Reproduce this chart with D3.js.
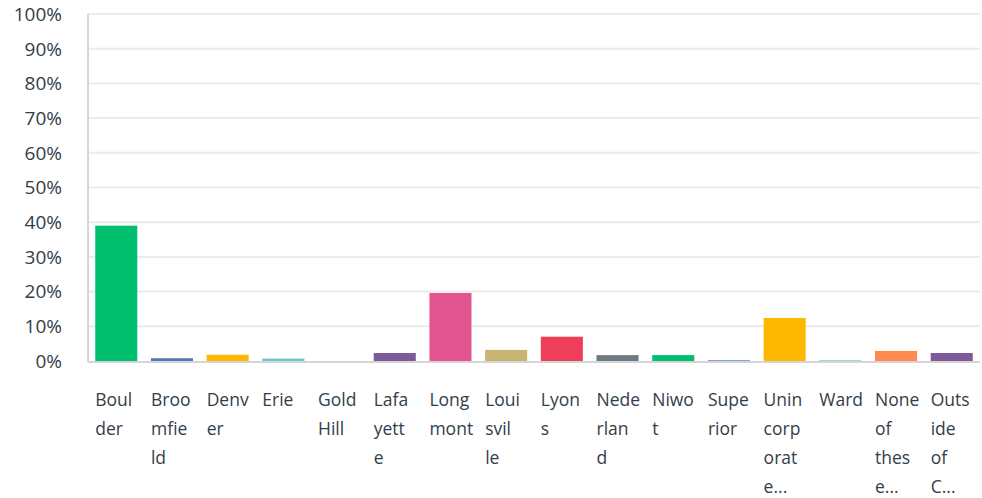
<!DOCTYPE html>
<meta charset="utf-8">
<script src="https://d3js.org/d3.v7.min.js"></script>
<style>
  body { margin: 0; background: #fff; }
  text { font-family: "Open Sans", sans-serif; fill: #333e48; }
</style>
<div id="my_dataviz"></div>
<script>
  // categories and shares (%)
  var categories = ["Boulder", "Broomfield", "Denver", "Erie", "Gold Hill", "Lafayette",
    "Longmont", "Louisville", "Lyons", "Nederland", "Niwot", "Superior",
    "Unincorporated Boulder County", "Ward", "None of these apply", "Outside of County"];
  var values = [39.0, 0.8, 1.8, 0.7, 0, 2.3, 19.6, 3.2, 7.0, 1.7, 1.7, 0.2, 12.4, 0.2, 2.9, 2.3];
  var yTicks = [0, 10, 20, 30, 40, 50, 60, 70, 80, 90, 100];
  var palette = ["#00bf6f", "#507cb6", "#ffb800", "#6bc8cd", "#ff8b4f",
                 "#7f5a9b", "#e25591", "#c9b572", "#ee3e5a", "#6d7b83"];

  var W = 982, H = 498;
  var margin = {top: 14, right: 2, bottom: 137, left: 88},
      width = W - margin.left - margin.right,
      height = H - margin.top - margin.bottom;

  var svg = d3.select("#my_dataviz")
    .append("svg")
    .attr("width", W)
    .attr("height", H)
    .append("g")
    .attr("transform", "translate(" + margin.left + "," + margin.top + ")");

  var x = d3.scaleBand()
    .domain(categories)
    .range([0, width])
    .paddingInner(0.245)
    .paddingOuter(0.13);

  var y = d3.scaleLinear()
    .domain([0, 100])
    .range([height, 0]);

  // gridlines
  svg.append("g")
    .selectAll("line")
    .data(yTicks.slice(1))
    .enter()
    .append("line")
    .attr("x1", 0)
    .attr("x2", width)
    .attr("y1", function (d) { return y(d); })
    .attr("y2", function (d) { return y(d); })
    .style("stroke", "#ebebeb")
    .style("stroke-width", 2);

  // y labels
  svg.append("g")
    .selectAll("text")
    .data(yTicks)
    .enter()
    .append("text")
    .attr("x", -26)
    .attr("y", function (d) { return y(d); })
    .attr("dy", "0.36em")
    .attr("text-anchor", "end")
    .style("font-size", "19px")
    .text(function (d) { return d + "%"; });

  // bars
  svg.append("g")
    .selectAll("rect")
    .data(categories)
    .enter()
    .append("rect")
    .attr("x", function (d) { return x(d); })
    .attr("width", x.bandwidth())
    .attr("y", function (d, i) { return y(values[i]); })
    .attr("height", function (d, i) { return height - y(values[i]); })
    .style("fill", function (d, i) { return palette[i % palette.length]; });

  // axes lines
  svg.append("line")
    .attr("x1", 0).attr("x2", 0)
    .attr("y1", y(100)).attr("y2", height + 1)
    .style("stroke", "#d5d5d5").style("stroke-width", 2);
  svg.append("line")
    .attr("x1", 0).attr("x2", width)
    .attr("y1", height + 1).attr("y2", height + 1)
    .style("stroke", "#d5d5d5").style("stroke-width", 2);

  // wrap labels into 4-char chunks, max 4 lines
  function wrap(label) {
    var lines = [];
    label.split(" ").forEach(function (w) {
      for (var k = 0; k < w.length; k += 4) lines.push(w.slice(k, k + 4));
    });
    if (lines.length > 4) {
      lines = lines.slice(0, 4);
      lines[3] = lines[3].charAt(0) + "...";
    }
    return lines;
  }

  var labels = svg.append("g")
    .selectAll("text")
    .data(categories)
    .enter()
    .append("text")
    .attr("x", function (d) { return x(d); })
    .attr("y", height + 45)
    .style("font-size", "17.5px");

  labels.selectAll("tspan")
    .data(function (d) { return wrap(d).map(function (t) { return {t: t, x: x(d)}; }); })
    .enter()
    .append("tspan")
    .attr("x", function (d) { return d.x; })
    .attr("y", function (d, i) { return height + 45 + i * 29; })
    .text(function (d) { return d.t; });
</script>
